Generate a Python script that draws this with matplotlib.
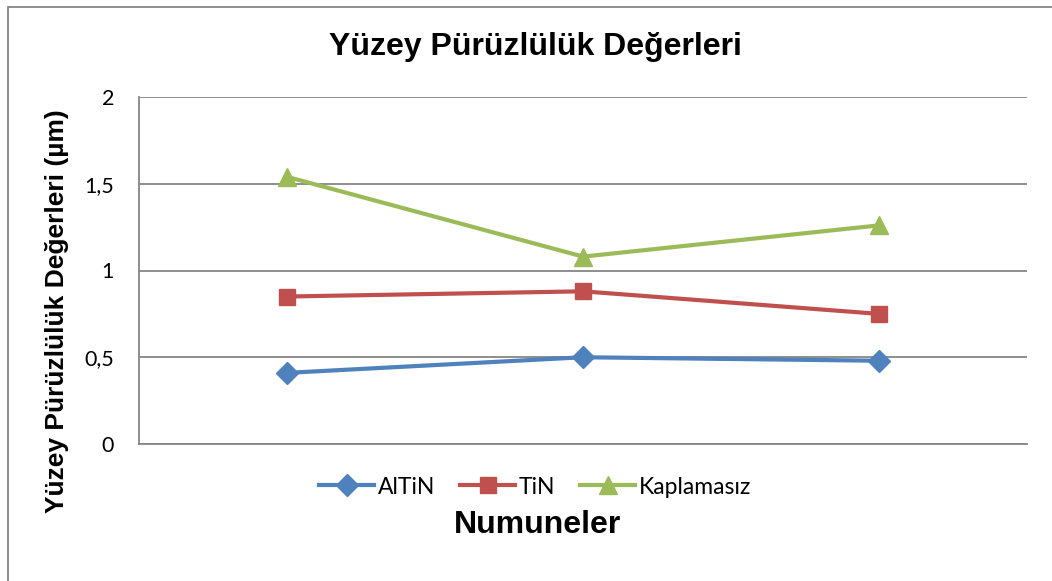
import matplotlib
matplotlib.use("Agg")
import matplotlib.pyplot as plt
import matplotlib.patches as mpatches

samples = [1, 2, 3]
altin = [0.41, 0.50, 0.48]
tin = [0.85, 0.88, 0.75]
kaplamasiz = [1.54, 1.08, 1.26]
y_ticks = [0, 0.5, 1, 1.5, 2]
y_tick_labels = ["0", "0,5", "1", "1,5", "2"]

body_font = ["Lato", "DejaVu Sans"]
bold_font = ["Liberation Sans", "DejaVu Sans"]

fig = plt.figure(figsize=(10.52, 5.81), dpi=100)
ax = fig.add_axes([139 / 1052, 1 - 444 / 581, (1027 - 139) / 1052, (444 - 97) / 581])

x = [s - 0.5 for s in samples]
ax.plot(x, altin, color="#4F81BD", lw=3, marker="D", ms=11, label="AlTiN", zorder=3)
ax.plot(x, tin, color="#C0504D", lw=3, marker="s", ms=12, label="TiN", zorder=3)
ax.plot(x, kaplamasiz, color="#9BBB59", lw=3, marker="^", ms=13, label="Kaplamasız", zorder=3)

ax.set_xlim(0, 3)
ax.set_ylim(0, 2)
ax.set_xticks([])
ax.set_yticks(y_ticks)
ax.set_yticklabels(y_tick_labels, fontfamily=body_font, fontsize=15.5)
ax.tick_params(axis="y", length=0, pad=18)
ax.grid(axis="y", color="#868686", lw=1.3)
ax.set_axisbelow(True)
for side in ["top", "right"]:
    ax.spines[side].set_visible(False)
for side in ["left", "bottom"]:
    ax.spines[side].set_color("#868686")
    ax.spines[side].set_linewidth(1.3)

fig.text(535 / 1052, 1 - 47 / 581, "Yüzey Pürüzlülük Değerleri", ha="center", va="center",
         fontfamily=bold_font, fontweight="bold", fontsize=23)
fig.text(57 / 1052, 1 - 311 / 581, "Yüzey Pürüzlülük Değerleri (µm)", ha="center", va="center",
         rotation=90, fontfamily=bold_font, fontweight="bold", fontsize=19)
fig.text(538 / 1052, 1 - 525 / 581, "Numuneler", ha="center", va="center",
         fontfamily=bold_font, fontweight="bold", fontsize=23)

ax.legend(loc="center", bbox_to_anchor=(535 / 1052, 1 - 487 / 581), bbox_transform=fig.transFigure,
          ncol=3, frameon=False, prop={"family": body_font, "size": 16.5},
          handlelength=2.4, handletextpad=0.15, columnspacing=1.1)

# outer chart border
fig.patches.append(mpatches.Rectangle((8 / 1052, -0.1), 1.2, 1 - 7 / 581 + 0.1,
                                      transform=fig.transFigure, fill=False,
                                      edgecolor="#868686", lw=1.3))

fig.savefig("out.png", dpi=100)
